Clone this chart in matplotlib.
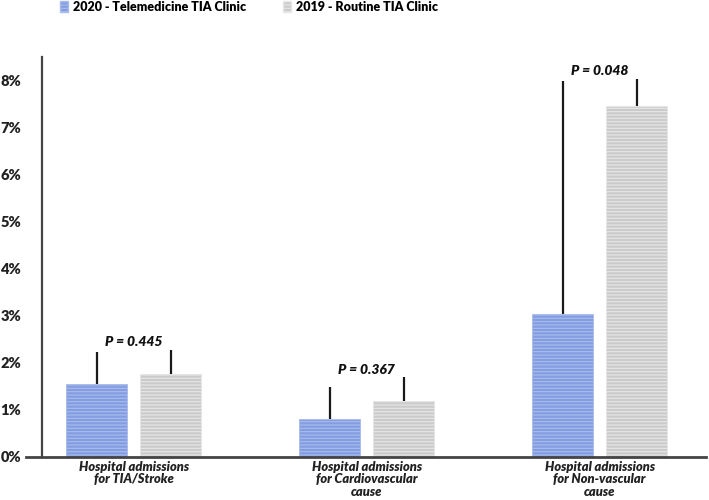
import matplotlib
matplotlib.use("Agg")
import matplotlib.pyplot as plt
import numpy as np
from matplotlib.patches import Rectangle

categories = ["Hospital admissions\nfor TIA/Stroke",
              "Hospital admissions\nfor Cardiovascular\ncause",
              "Hospital admissions\nfor Non-vascular\ncause"]
series_names = ["2020 - Telemedicine TIA Clinic", "2019 - Routine TIA Clinic"]
vals_2020 = [1.55, 0.81, 3.04]
vals_2019 = [1.77, 1.19, 7.45]
err_top_2020 = [2.23, 1.49, 7.98]
err_top_2019 = [2.28, 1.70, 8.04]
p_values = ["P = 0.445", "P = 0.367", "P = 0.048"]
yticks = [0, 1, 2, 3, 4, 5, 6, 7, 8]

plt.rcParams['font.family'] = ['Lato', 'DejaVu Sans']
plt.rcParams['hatch.linewidth'] = 0.8

fig = plt.figure(figsize=(7.09, 5.0), dpi=100)
ax = fig.add_axes([0.0592, 0.086, 0.9366, 0.80])

x = np.arange(len(categories))
w = 0.262
off = 0.159
blue = "#839de0"
grey = "#cbcbcb"

b1 = ax.bar(x - off, vals_2020, w, color=blue, edgecolor="#a9bcec", linewidth=0.6,
            hatch='-----', zorder=2)
b2 = ax.bar(x + off, vals_2019, w, color=grey, edgecolor="#e6e6e6", linewidth=0.6,
            hatch='-----', zorder=2)

ax.vlines(x - off, vals_2020, err_top_2020, color="#1a1a1a", lw=1.6, zorder=3)
ax.vlines(x + off, vals_2019, err_top_2019, color="#1a1a1a", lw=1.6, zorder=3)

for i, p in enumerate(p_values):
    ytxt = max(err_top_2020[i], err_top_2019[i]) + 0.03
    ax.text(x[i], ytxt, p, ha='center', va='bottom', fontsize=10,
            fontweight='heavy', fontstyle='italic', color='#111111')

ax.set_xlim(-0.395, 2.457)
ax.set_ylim(0, 8.5)
ax.set_yticks(yticks)
ax.set_yticklabels([f"{t}%" for t in yticks], fontsize=10.5, fontweight='heavy',
                   color='#222222')
ax.tick_params(axis='y', length=0, pad=15)
ax.set_xticks(x)
ax.set_xticklabels(categories, fontsize=9.3, fontweight='heavy', fontstyle='italic',
                   color='#222222', linespacing=1.02)
ax.tick_params(axis='x', length=0, pad=3)

for s in ['top', 'right']:
    ax.spines[s].set_visible(False)
ax.spines['left'].set_color('#444444')
ax.spines['left'].set_linewidth(1.6)
ax.spines['bottom'].set_visible(False)
ax.axhline(0, xmin=-0.024, xmax=1.0, color='#444444', lw=2.0, clip_on=False, zorder=4)

# legend at top
handles = [Rectangle((0, 0), 1, 1, facecolor=blue, edgecolor="#a9bcec", hatch='-----'),
           Rectangle((0, 0), 1, 1, facecolor=grey, edgecolor="#e6e6e6", hatch='-----')]
leg = fig.legend(handles, series_names, loc='upper left', bbox_to_anchor=(0.085, 0.998),
                 ncol=2, frameon=False, handlelength=0.65, handleheight=1.0,
                 handletextpad=0.4, columnspacing=2.9, borderpad=0.0,
                 borderaxespad=0.0,
                 prop={'weight': 'heavy', 'size': 9})

fig.savefig("out.png", dpi=100)
